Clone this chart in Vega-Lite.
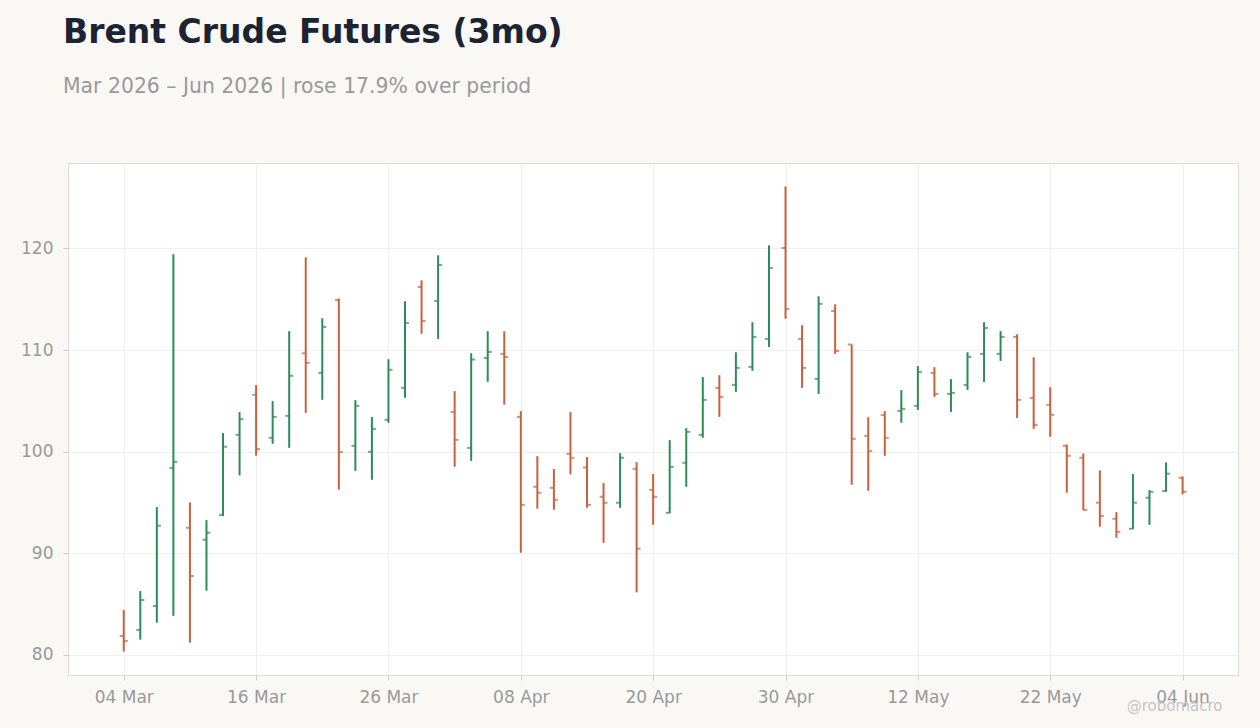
{
  "$schema": "https://vega.github.io/schema/vega-lite/v6.json",
  "autosize": {"type": "none"},
  "width": 1170,
  "height": 512,
  "padding": {"left": 68, "top": 163, "right": 22, "bottom": 53},
  "background": "#f9f8f5",
  "title": {
    "text": "Brent Crude Futures (3mo)",
    "subtitle": "Mar 2026 – Jun 2026 | rose 17.9% over period",
    "anchor": "start",
    "frame": "group",
    "dx": -5,
    "offset": 66,
    "font": "DejaVu Sans",
    "fontSize": 33,
    "fontWeight": "bold",
    "color": "#1c2333",
    "subtitleFont": "DejaVu Sans",
    "subtitleFontSize": 20.4,
    "subtitleColor": "#999999",
    "subtitlePadding": 27
  },
  "config": {
    "font": "DejaVu Sans",
    "view": {"fill": "#ffffff", "stroke": "#dedbd6", "strokeWidth": 1}
  },
  "data": {
    "values": [
      {"i": 0, "d": "2026-03-04", "o": 81.87, "h": 84.42, "l": 80.33, "c": 81.38},
      {"i": 1, "d": "2026-03-05", "o": 82.46, "h": 86.29, "l": 81.51, "c": 85.41},
      {"i": 2, "d": "2026-03-06", "o": 84.82, "h": 94.55, "l": 83.18, "c": 92.72},
      {"i": 3, "d": "2026-03-09", "o": 98.39, "h": 119.43, "l": 83.87, "c": 99.01},
      {"i": 4, "d": "2026-03-10", "o": 92.52, "h": 95.01, "l": 81.21, "c": 87.77},
      {"i": 5, "d": "2026-03-11", "o": 91.34, "h": 93.27, "l": 86.32, "c": 92.03},
      {"i": 6, "d": "2026-03-12", "o": 93.77, "h": 101.83, "l": 93.67, "c": 100.49},
      {"i": 7, "d": "2026-03-13", "o": 101.66, "h": 103.89, "l": 97.67, "c": 103.2},
      {"i": 8, "d": "2026-03-16", "o": 105.6, "h": 106.55, "l": 99.61, "c": 100.26},
      {"i": 9, "d": "2026-03-17", "o": 101.37, "h": 104.98, "l": 100.78, "c": 103.43},
      {"i": 10, "d": "2026-03-18", "o": 103.53, "h": 111.86, "l": 100.38, "c": 107.47},
      {"i": 11, "d": "2026-03-19", "o": 109.69, "h": 119.13, "l": 103.83, "c": 108.74},
      {"i": 12, "d": "2026-03-20", "o": 107.76, "h": 113.14, "l": 105.11, "c": 112.28},
      {"i": 13, "d": "2026-03-23", "o": 114.91, "h": 115.07, "l": 96.26, "c": 99.97},
      {"i": 14, "d": "2026-03-24", "o": 100.58, "h": 105.07, "l": 98.12, "c": 104.51},
      {"i": 15, "d": "2026-03-25", "o": 99.99, "h": 103.4, "l": 97.24, "c": 102.25},
      {"i": 16, "d": "2026-03-26", "o": 103.14, "h": 109.1, "l": 102.85, "c": 108.06},
      {"i": 17, "d": "2026-03-27", "o": 106.29, "h": 114.81, "l": 105.31, "c": 112.67},
      {"i": 18, "d": "2026-03-30", "o": 116.21, "h": 116.87, "l": 111.6, "c": 112.87},
      {"i": 19, "d": "2026-03-31", "o": 114.84, "h": 119.33, "l": 111.1, "c": 118.38},
      {"i": 20, "d": "2026-04-01", "o": 103.92, "h": 105.96, "l": 98.52, "c": 101.17},
      {"i": 21, "d": "2026-04-02", "o": 100.38, "h": 109.69, "l": 99.1, "c": 109.07},
      {"i": 22, "d": "2026-04-06", "o": 109.23, "h": 111.86, "l": 106.88, "c": 109.82},
      {"i": 23, "d": "2026-04-07", "o": 109.63, "h": 111.86, "l": 104.62, "c": 109.33},
      {"i": 24, "d": "2026-04-08", "o": 103.43, "h": 103.99, "l": 90.06, "c": 94.77},
      {"i": 25, "d": "2026-04-09", "o": 96.55, "h": 99.57, "l": 94.39, "c": 95.96},
      {"i": 26, "d": "2026-04-10", "o": 96.45, "h": 98.29, "l": 94.29, "c": 95.27},
      {"i": 27, "d": "2026-04-13", "o": 99.79, "h": 103.89, "l": 97.77, "c": 99.4},
      {"i": 28, "d": "2026-04-14", "o": 98.45, "h": 99.47, "l": 94.48, "c": 94.77},
      {"i": 29, "d": "2026-04-15", "o": 95.57, "h": 96.91, "l": 91.04, "c": 94.98},
      {"i": 30, "d": "2026-04-16", "o": 94.98, "h": 99.86, "l": 94.48, "c": 99.4},
      {"i": 31, "d": "2026-04-17", "o": 98.32, "h": 98.98, "l": 86.16, "c": 90.46},
      {"i": 32, "d": "2026-04-20", "o": 96.25, "h": 97.8, "l": 92.81, "c": 95.57},
      {"i": 33, "d": "2026-04-21", "o": 93.99, "h": 101.14, "l": 93.96, "c": 98.51},
      {"i": 34, "d": "2026-04-22", "o": 98.91, "h": 102.32, "l": 96.55, "c": 101.96},
      {"i": 35, "d": "2026-04-23", "o": 101.66, "h": 107.34, "l": 101.37, "c": 105.1},
      {"i": 36, "d": "2026-04-24", "o": 106.28, "h": 107.53, "l": 103.43, "c": 105.4},
      {"i": 37, "d": "2026-04-27", "o": 106.58, "h": 109.79, "l": 105.89, "c": 108.25},
      {"i": 38, "d": "2026-04-28", "o": 108.35, "h": 112.74, "l": 107.96, "c": 111.3},
      {"i": 39, "d": "2026-04-29", "o": 111.1, "h": 120.31, "l": 110.31, "c": 118.08},
      {"i": 40, "d": "2026-04-30", "o": 120.05, "h": 126.11, "l": 113.08, "c": 114.06},
      {"i": 41, "d": "2026-05-01", "o": 111.1, "h": 112.45, "l": 106.28, "c": 108.25},
      {"i": 42, "d": "2026-05-04", "o": 107.17, "h": 115.3, "l": 105.69, "c": 114.55},
      {"i": 43, "d": "2026-05-05", "o": 113.85, "h": 114.51, "l": 109.63, "c": 109.92},
      {"i": 44, "d": "2026-05-06", "o": 110.55, "h": 110.55, "l": 96.75, "c": 101.27},
      {"i": 45, "d": "2026-05-07", "o": 101.56, "h": 103.4, "l": 96.16, "c": 100.06},
      {"i": 46, "d": "2026-05-08", "o": 103.6, "h": 103.99, "l": 99.6, "c": 101.37},
      {"i": 47, "d": "2026-05-11", "o": 104.02, "h": 106.06, "l": 102.85, "c": 104.22},
      {"i": 48, "d": "2026-05-12", "o": 104.51, "h": 108.42, "l": 104.12, "c": 107.86},
      {"i": 49, "d": "2026-05-13", "o": 107.76, "h": 108.32, "l": 105.4, "c": 105.69},
      {"i": 50, "d": "2026-05-14", "o": 105.69, "h": 107.14, "l": 103.92, "c": 105.79},
      {"i": 51, "d": "2026-05-15", "o": 106.58, "h": 109.79, "l": 106.08, "c": 109.33},
      {"i": 52, "d": "2026-05-18", "o": 109.63, "h": 112.74, "l": 106.87, "c": 112.18},
      {"i": 53, "d": "2026-05-19", "o": 109.63, "h": 111.86, "l": 108.94, "c": 111.3},
      {"i": 54, "d": "2026-05-20", "o": 111.3, "h": 111.56, "l": 103.33, "c": 105.1},
      {"i": 55, "d": "2026-05-21", "o": 105.3, "h": 109.3, "l": 102.25, "c": 102.64},
      {"i": 56, "d": "2026-05-22", "o": 104.61, "h": 106.35, "l": 101.47, "c": 103.63},
      {"i": 57, "d": "2026-05-26", "o": 100.58, "h": 100.71, "l": 95.96, "c": 99.6},
      {"i": 58, "d": "2026-05-27", "o": 99.4, "h": 99.83, "l": 94.26, "c": 94.26},
      {"i": 59, "d": "2026-05-28", "o": 94.98, "h": 98.16, "l": 92.62, "c": 93.67},
      {"i": 60, "d": "2026-05-29", "o": 93.4, "h": 94.06, "l": 91.53, "c": 92.12},
      {"i": 61, "d": "2026-06-01", "o": 92.42, "h": 97.8, "l": 92.39, "c": 94.98},
      {"i": 62, "d": "2026-06-02", "o": 95.47, "h": 96.22, "l": 92.81, "c": 96.06},
      {"i": 63, "d": "2026-06-03", "o": 96.13, "h": 98.95, "l": 96.06, "c": 97.84},
      {"i": 64, "d": "2026-06-04", "o": 97.43, "h": 97.57, "l": 95.8, "c": 96.06}
    ]
  },
  "encoding": {
    "x": {
      "field": "i",
      "type": "quantitative",
      "scale": {"domain": [-3.37, 67.35], "nice": false, "zero": false},
      "axis": {
        "values": [0, 8, 16, 24, 32, 40, 48, 56, 64],
        "labelExpr": "['04 Mar','16 Mar','26 Mar','08 Apr','20 Apr','30 Apr','12 May','22 May','04 Jun'][round(datum.value / 8)]",
        "labelColor": "#999999",
        "labelFontSize": 17,
        "labelPadding": 9,
        "labelFlush": false,
        "domain": false,
        "grid": true,
        "gridColor": "#efefef",
        "tickColor": "#cccccc",
        "tickSize": 5,
        "title": "@robomacro",
        "titleX": 1154,
        "titleY": 35,
        "titleAlign": "right",
        "titleAnchor": null,
        "titleBaseline": "alphabetic",
        "titleColor": "#c4c4c4",
        "titleFontSize": 15,
        "titleFontWeight": "normal"
      }
    },
    "color": {
      "condition": {"test": "datum.c >= datum.o", "value": "#2e8b57"},
      "value": "#c8613e"
    }
  },
  "layer": [
    {
      "mark": {"type": "rule", "strokeWidth": 2},
      "encoding": {
        "y": {
          "field": "l",
          "type": "quantitative",
          "scale": {"domain": [78.03, 128.41], "zero": false, "nice": false},
          "axis": {
            "title": null,
            "values": [80, 90, 100, 110, 120],
            "labelColor": "#999999",
            "labelFontSize": 17,
            "labelPadding": 10,
            "labelFlush": false,
            "domain": false,
            "grid": true,
            "gridColor": "#efefef",
            "tickColor": "#cccccc",
            "tickSize": 5
          }
        },
        "y2": {"field": "h"}
      }
    },
    {
      "mark": {"type": "tick", "orient": "horizontal", "size": 4, "thickness": 2, "xOffset": -2},
      "encoding": {"y": {"field": "o", "type": "quantitative"}}
    },
    {
      "mark": {"type": "tick", "orient": "horizontal", "size": 4, "thickness": 2, "xOffset": 2},
      "encoding": {"y": {"field": "c", "type": "quantitative"}}
    }
  ]
}
